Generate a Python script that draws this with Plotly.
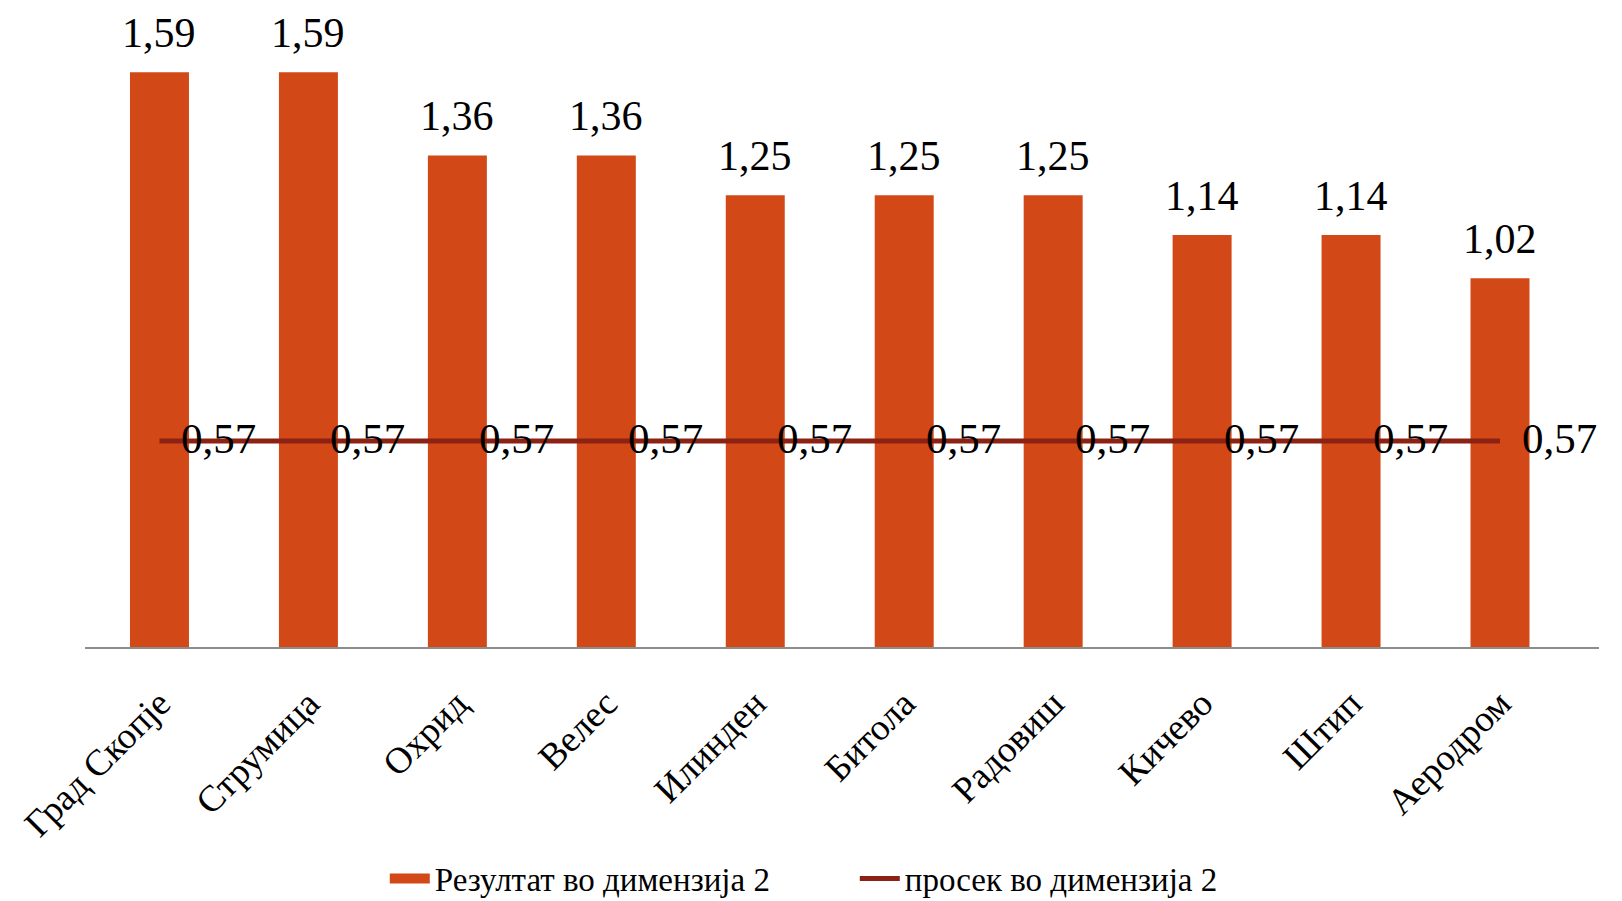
import plotly.graph_objects as go

categories = ["Град Скопје", "Струмица", "Охрид", "Велес", "Илинден",
              "Битола", "Радовиш", "Кичево", "Штип", "Аеродром"]
results = [1.59, 1.59, 1.36, 1.36, 1.25, 1.25, 1.25, 1.14, 1.14, 1.02]
average = [0.57] * 10
bar_name = "Резултат во димензија 2"
line_name = "просек во димензија 2"

BAR_COLOR = "#D34817"
LINE_COLOR = "#8C2213"
FONT = "Liberation Serif"

def fmt(v):
    return f"{v:.2f}".replace(".", ",")

fig = go.Figure()
fig.add_trace(go.Bar(x=categories, y=results, name=bar_name, showlegend=False,
                     legendgroup="bar",
                     marker=dict(color=BAR_COLOR, line=dict(width=0))))
# legend-only entry drawn as a wide swatch
fig.add_trace(go.Scatter(x=[None], y=[None], name=bar_name, mode="lines",
                         legendgroup="bar",
                         line=dict(color=BAR_COLOR, width=15)))
fig.add_trace(go.Scatter(x=categories, y=average, name=line_name, mode="lines",
                         line=dict(color=LINE_COLOR, width=5)))

for c, v in zip(categories, results):
    fig.add_annotation(x=c, y=v, text=fmt(v), showarrow=False,
                       xanchor="center", yanchor="bottom", yshift=14,
                       font=dict(family=FONT, size=42, color="#000000"))
for c, v in zip(categories, average):
    fig.add_annotation(x=c, y=v, text=fmt(v), showarrow=False,
                       xanchor="left", yanchor="middle", xshift=20, yshift=2,
                       font=dict(family=FONT, size=43, color="#000000"))

fig.update_layout(
    width=1622, height=901,
    margin=dict(l=85, r=23, t=0, b=254),
    paper_bgcolor="white", plot_bgcolor="white",
    bargap=0.604,
    font=dict(family=FONT, color="#000000"),
    legend=dict(orientation="h", xref="container", yref="container",
                x=0.527, xanchor="center", y=0.025, yanchor="middle",
                font=dict(family=FONT, size=33), itemwidth=40,
                entrywidth=415, tracegroupgap=0),
    showlegend=True,
)
fig.update_xaxes(showline=True, linecolor="#8C8C8C", linewidth=2,
                 ticks="", tickangle=-45, ticklabelstandoff=18,
                 tickfont=dict(family=FONT, size=37, color="#000000"),
                 showgrid=False, zeroline=False)
fig.update_yaxes(range=[0, 1.79], visible=False, showgrid=False, zeroline=False)

fig.write_html("out.html", config={"displayModeBar": False},
               post_script="document.body.style.margin='0';document.body.style.overflow='hidden';")
